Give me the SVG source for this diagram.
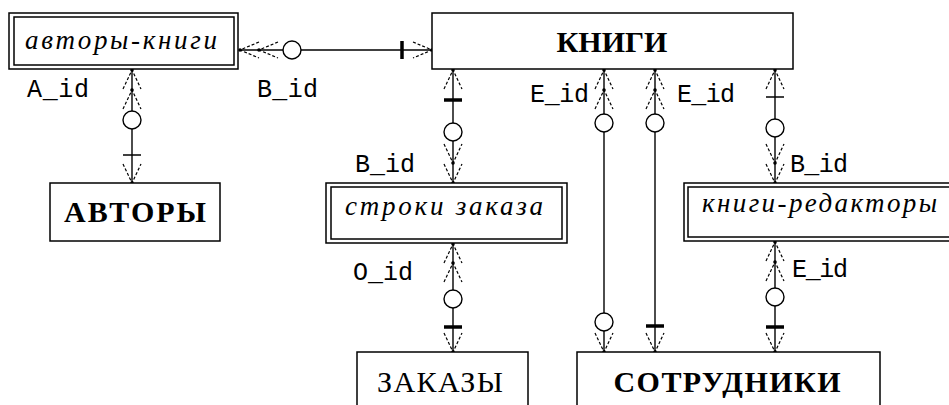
<svg xmlns="http://www.w3.org/2000/svg" xmlns:xlink="http://www.w3.org/1999/xlink" width="949" height="405" viewBox="0 0 949 405">
<style>
.box{fill:#fff;stroke:#000;stroke-width:1.5}
.ln{stroke:#000;stroke-width:1.4;fill:none}
.ch{stroke:#000;stroke-width:1.2;fill:none;stroke-dasharray:3 2}
.o{fill:#fff;stroke:#000;stroke-width:1.4}
.tb{stroke:#000;stroke-width:3.5}
.nb{stroke:#000;stroke-width:1.5}
.ent{font-family:"Liberation Serif",serif;font-weight:bold;font-size:30px;text-anchor:middle}
.ent2{font-family:"Liberation Serif",serif;font-size:30px;text-anchor:middle}
.weak{font-family:"Liberation Serif",serif;font-style:italic;font-size:27px}
.lbl{font-family:"Liberation Mono",monospace;font-size:25px}
</style>
<defs>
<g id="chU"><path class="ch" d="M-9,19 L0,0 L9,19"/><circle r="1.8"/></g>
<g id="chD"><path class="ch" d="M-9,-19 L0,0 L9,-19"/><circle r="1.8"/></g>
<g id="chL"><path class="ch" d="M19,-8 L0,0 L19,8"/><circle r="1.8"/></g>
<g id="chR"><path class="ch" d="M-19,-8 L0,0 L-19,8"/><circle r="1.8"/></g>
</defs>
<rect width="949" height="405" fill="#fff"/>

<g id="connectors">
<g id="c1">
<line class="ln" x1="240" y1="50" x2="432" y2="50"/>
<use xlink:href="#chL" x="240" y="50"/>
<use xlink:href="#chL" x="259" y="50"/>
<circle class="o" cx="292" cy="50" r="9"/>
<line class="tb" x1="402" y1="41" x2="402" y2="59"/>
<use xlink:href="#chR" x="432" y="50"/>
</g>
<g id="c2">
<line class="ln" x1="132" y1="69" x2="132" y2="183"/>
<use xlink:href="#chU" x="132" y="70"/>
<use xlink:href="#chU" x="132" y="90"/>
<circle class="o" cx="132" cy="120" r="9"/>
<line class="nb" x1="123" y1="155" x2="141" y2="155"/>
<use xlink:href="#chD" x="132" y="183"/>
</g>
<g id="c3">
<line class="ln" x1="453" y1="69" x2="453" y2="183"/>
<use xlink:href="#chU" x="453" y="70"/>
<line class="tb" x1="444" y1="100" x2="462" y2="100"/>
<circle class="o" cx="453" cy="132" r="9"/>
<use xlink:href="#chD" x="453" y="163"/>
<use xlink:href="#chD" x="453" y="183"/>
</g>
<g id="c4">
<line class="ln" x1="604" y1="69" x2="604" y2="352"/>
<use xlink:href="#chU" x="604" y="70"/>
<use xlink:href="#chU" x="604" y="90"/>
<circle class="o" cx="604" cy="123" r="9"/>
<circle class="o" cx="604" cy="322" r="9"/>
<use xlink:href="#chD" x="604" y="352"/>
</g>
<g id="c5">
<line class="ln" x1="655" y1="69" x2="655" y2="352"/>
<use xlink:href="#chU" x="655" y="70"/>
<use xlink:href="#chU" x="655" y="90"/>
<circle class="o" cx="655" cy="123" r="9"/>
<line class="tb" x1="646" y1="326" x2="664" y2="326"/>
<use xlink:href="#chD" x="655" y="352"/>
</g>
<g id="c6">
<line class="ln" x1="775" y1="69" x2="775" y2="183"/>
<use xlink:href="#chU" x="775" y="70"/>
<line class="nb" x1="766" y1="97" x2="784" y2="97"/>
<circle class="o" cx="775" cy="128" r="9"/>
<use xlink:href="#chD" x="775" y="163"/>
<use xlink:href="#chD" x="775" y="183"/>
</g>
<g id="c7">
<line class="ln" x1="453" y1="243" x2="453" y2="352"/>
<use xlink:href="#chU" x="453" y="244"/>
<use xlink:href="#chU" x="453" y="263"/>
<circle class="o" cx="453" cy="299" r="9"/>
<line class="tb" x1="444" y1="327" x2="462" y2="327"/>
<use xlink:href="#chD" x="453" y="352"/>
</g>
<g id="c8">
<line class="ln" x1="775" y1="241" x2="775" y2="352"/>
<use xlink:href="#chU" x="775" y="242"/>
<use xlink:href="#chU" x="775" y="262"/>
<circle class="o" cx="775" cy="297" r="9"/>
<line class="tb" x1="766" y1="327" x2="784" y2="327"/>
<use xlink:href="#chD" x="775" y="352"/>
</g>
<text class="lbl" x="27" y="97" textLength="62">A_id</text>
<text class="lbl" x="257" y="97" textLength="61">B_id</text>
<text class="lbl" x="355" y="172" textLength="60">B_id</text>
<text class="lbl" x="530" y="102" textLength="59">E_id</text>
<text class="lbl" x="677" y="102" textLength="58">E_id</text>
<text class="lbl" x="790" y="172" textLength="58">B_id</text>
<text class="lbl" x="353" y="280" textLength="60">O_id</text>
<text class="lbl" x="792" y="277" textLength="56">E_id</text>
</g>

<g id="avtory-knigi">
<rect class="box" x="9" y="13" width="229" height="56"/>
<rect class="box" x="14" y="17" width="220" height="48"/>
<text class="weak" x="25" y="49" textLength="192">авторы-книги</text>
</g>
<g id="knigi">
<rect class="box" x="432" y="13" width="361" height="56"/>
<text class="ent" x="612" y="52">КНИГИ</text>
</g>
<g id="avtory">
<rect class="box" x="50" y="183" width="170" height="58"/>
<text class="ent" x="135" y="222" textLength="142">АВТОРЫ</text>
</g>
<g id="stroki-zakaza">
<rect class="box" x="326" y="183" width="241" height="60"/>
<rect class="box" x="331" y="187" width="231" height="52"/>
<text class="weak" x="345" y="215" textLength="198">строки заказа</text>
</g>
<g id="knigi-redaktory">
<rect class="box" x="684" y="183" width="290" height="58"/>
<rect class="box" x="688" y="187" width="282" height="50"/>
<text class="weak" x="702" y="212" textLength="235">книги-редакторы</text>
</g>
<g id="zakazy">
<rect class="box" x="357" y="352" width="171" height="80"/>
<text class="ent2" x="440" y="392" textLength="126">ЗАКАЗЫ</text>
</g>
<g id="sotrudniki">
<rect class="box" x="577" y="352" width="303" height="80"/>
<text class="ent" x="727" y="392" textLength="227">СОТРУДНИКИ</text>
</g>
</svg>
